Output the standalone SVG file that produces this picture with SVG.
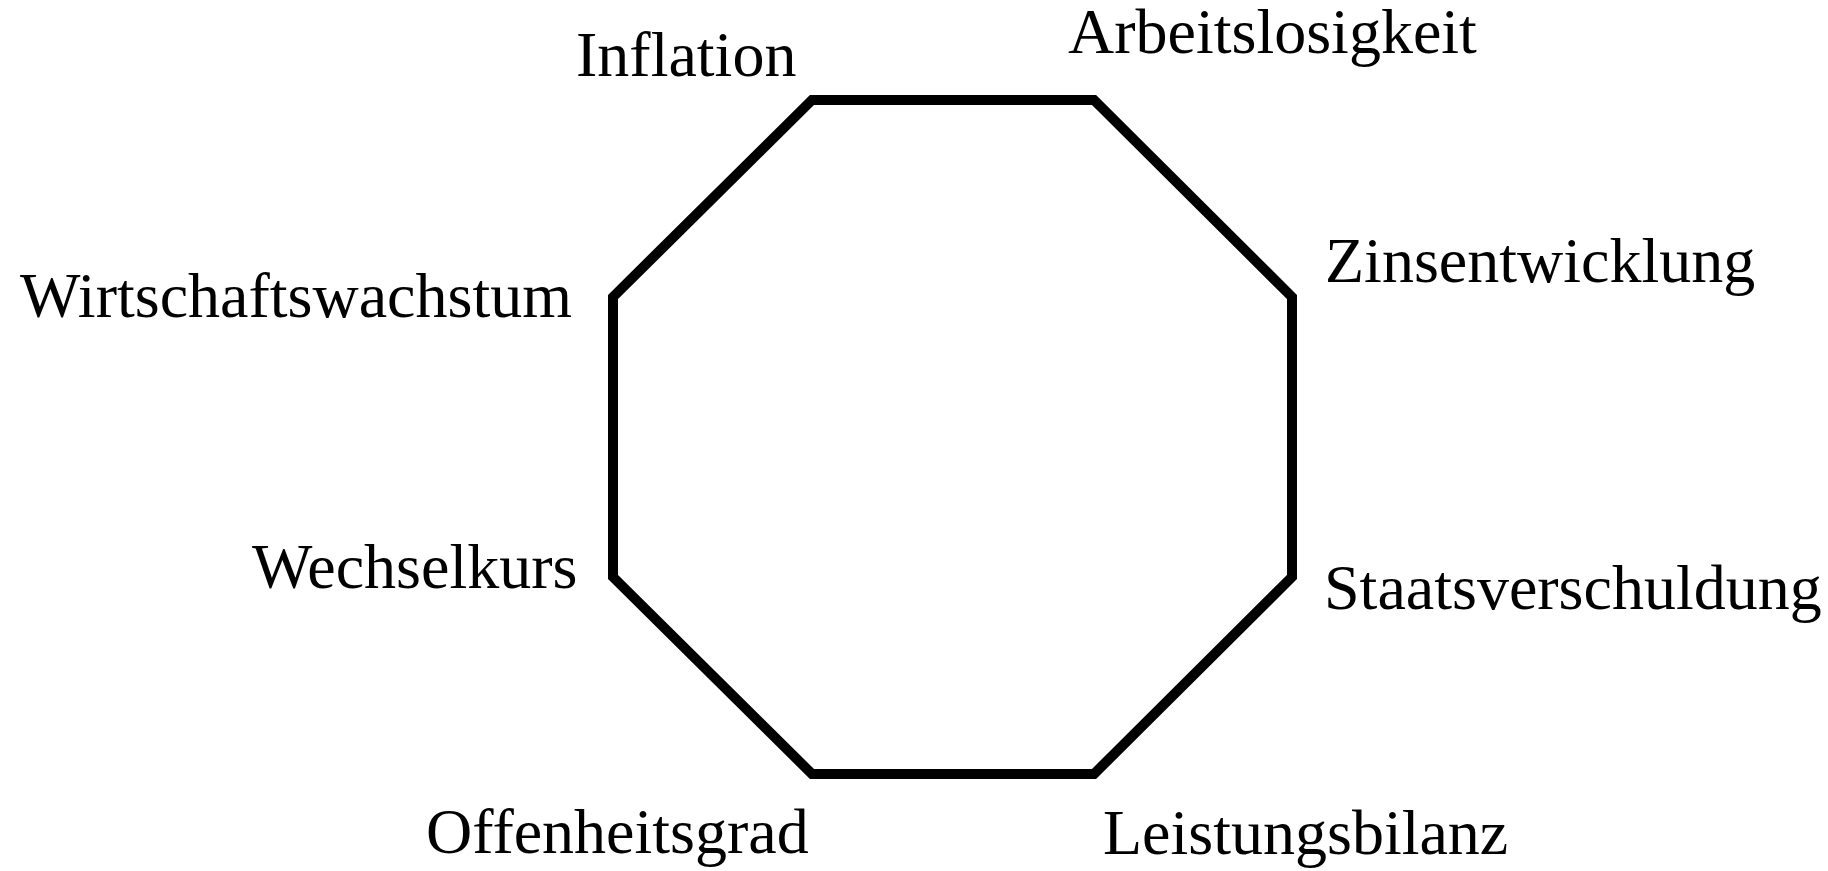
<svg xmlns="http://www.w3.org/2000/svg" width="1828" height="871" viewBox="0 0 1828 871">
<style>
.lbl{font-family:"Liberation Serif","Times New Roman",serif;font-size:64px;fill:#000}
.oct{fill:none;stroke:#000;stroke-width:10;stroke-linejoin:miter}
</style>
<rect width="1828" height="871" fill="#fff"/>
<g id="connectors">
<polygon class="oct" points="812,100 1094,100 1292,297 1292,577 1094,774 812,774 613,577 613,297"/>
</g>
<g id="inflation"><text class="lbl" x="576" y="76">Inflation</text></g>
<g id="arbeitslosigkeit"><text class="lbl" x="1068" y="53">Arbeitslosigkeit</text></g>
<g id="wirtschaftswachstum"><text class="lbl" x="20" y="317">Wirtschaftswachstum</text></g>
<g id="zinsentwicklung"><text class="lbl" x="1325" y="282">Zinsentwicklung</text></g>
<g id="wechselkurs"><text class="lbl" x="252" y="588">Wechselkurs</text></g>
<g id="staatsverschuldung"><text class="lbl" x="1324" y="609">Staatsverschuldung</text></g>
<g id="offenheitsgrad"><text class="lbl" x="426" y="853">Offenheitsgrad</text></g>
<g id="leistungsbilanz"><text class="lbl" x="1103" y="854">Leistungsbilanz</text></g>
</svg>
